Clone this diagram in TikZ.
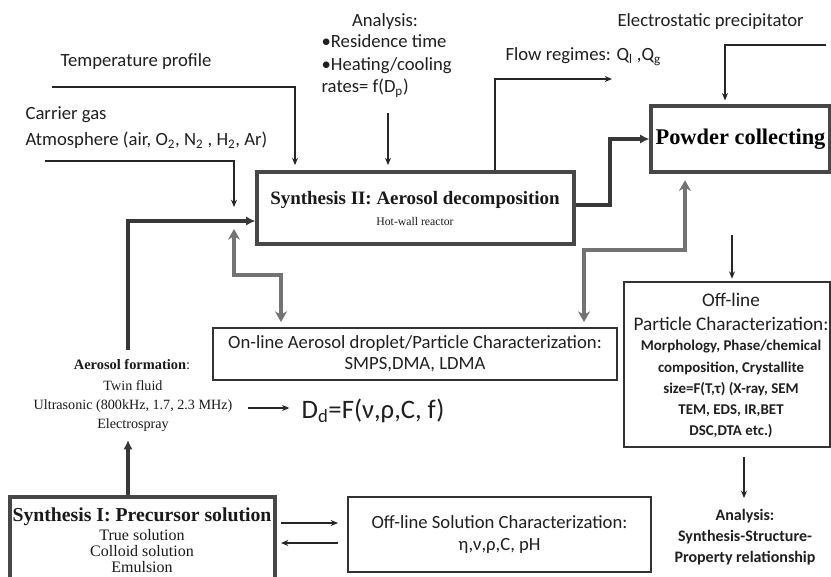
\documentclass[tikz,border=0pt]{standalone}
\usepackage{fontspec}
\setmainfont{Liberation Serif}
\newfontfamily\calfont{Carlito}
\usetikzlibrary{arrows.meta}
\begin{document}
\begin{tikzpicture}[x=0.75pt,y=-0.75pt,
  tarrow/.style={draw=black!85,line width=0.8pt,-{Stealth[length=5.5pt,width=4.5pt]}},
  karrow/.style={draw=black!78,line width=2.3pt,-{Latex[length=7pt,width=7pt]}},
  garrow/.style={draw=black!55,line width=2.6pt,{Stealth[length=8pt,width=9pt]}-{Stealth[length=8pt,width=9pt]}},
  bigbox/.style={draw=black!72,line width=2.4pt,inner sep=0pt},
  smallbox/.style={draw=black!80,line width=1pt,inner sep=0pt},
  ctext/.style={font=\calfont\fontsize{14}{16}\selectfont,text=black!88,inner sep=1pt},
  stext/.style={text=black!90,inner sep=1pt,align=center}]
\useasboundingbox (0,0) rectangle (831,576);
\clip (0,0) rectangle (831,576);

% boxes
\node[bigbox,minimum width=237.75pt,minimum height=54pt] (syn2) at (415.5,208) {};
\node[stext,font=\fontsize{14.2}{16}\selectfont\bfseries] (syn2t) at (415,200) {Synthesis II: Aerosol decomposition};
\node[stext,font=\fontsize{8.8}{10}\selectfont] (syn2s) at (415,221) {Hot-wall reactor};
\node[bigbox,minimum width=134.25pt,minimum height=49.5pt,font=\fontsize{16.8}{19}\selectfont\bfseries] (powder) at (740.5,139) {Powder collecting};
\node[smallbox,minimum width=303pt,minimum height=39pt,ctext,align=center,inner sep=0pt,font=\calfont\fontsize{14}{15.75}\selectfont] (online) at (415,354)
  {On-line Aerosol droplet/Particle Characterization:\\ SMPS,DMA, LDMA};
\node[smallbox,minimum width=154.5pt,minimum height=123.75pt] (offpart) at (727,364.5) {};
\node[ctext,align=center,font=\calfont\fontsize{14.4}{18}\selectfont] (offpt) at (731,312) {Off-line\\ Particle Characterization:};
\node[ctext,align=center,font=\calfont\bfseries\fontsize{11.2}{15.8}\selectfont] (offpb) at (731,389)
  {Morphology, Phase/chemical\\ composition, Crystallite\\ size=F(T,τ) (X-ray, SEM\\ TEM, EDS, IR,BET\\ DSC,DTA etc.)};
\node[bigbox,minimum width=198.75pt,minimum height=75pt] (syn1) at (142.5,547) {};
\node[stext,font=\fontsize{14.8}{16}\selectfont\bfseries] (syn1t) at (142,517) {Synthesis I: Precursor solution};
\node[stext,font=\fontsize{12}{11.8}\selectfont] (syn1s) at (142,551) {True solution\\ Colloid solution\\ Emulsion};
\node[smallbox,minimum width=227.25pt,minimum height=56.25pt,ctext,align=center] (offsol) at (499.5,534.5)
  {Off-line Solution Characterization:\\[1pt] η,ν,ρ,C, pH};

% free texts
\node[ctext,anchor=west] (tp) at (59,62) {Temperature profile};
\node[ctext,anchor=west] (cg1) at (24,115) {Carrier gas};
\node[ctext,anchor=west] (cg2) at (24,140) {Atmosphere (air, O\textsubscript{2}, N\textsubscript{2} , H\textsubscript{2}, Ar)};
\node[ctext] (an1) at (385,22) {Analysis:};
\node[ctext,anchor=north west,align=left,font=\calfont\fontsize{14}{17}\selectfont] (an2) at (320,33)
  {•Residence time\\ •Heating/cooling\\ rates= f(D\textsubscript{p})};
\node[ctext,anchor=west] (fr) at (504,57) {Flow regimes: Q\textsubscript{l} ,Q\textsubscript{g}};
\node[ctext,anchor=west] (es) at (616,22) {Electrostatic precipitator};
\node[stext,font=\fontsize{10.8}{15}\selectfont] (aero1) at (132,365) {\textbf{Aerosol formation}:};
\node[stext,font=\fontsize{10.6}{14.5}\selectfont] (aero) at (133,406) {Twin fluid\\ Ultrasonic (800kHz, 1.7, 2.3 MHz)\\ Electrospray};
\node[ctext,anchor=west,font=\calfont\fontsize{20}{22}\selectfont] (dd) at (300,411) {D\textsubscript{d}=F(ν,ρ,C, f)};
\node[ctext,align=center,font=\calfont\bfseries\fontsize{12}{16}\selectfont] (anb) at (745,537)
  {Analysis:\\ Synthesis-Structure-\\ Property relationship};

% connectors
\coordinate (tpA) at (52,87); \coordinate (tpB) at (295,87);
\draw[tarrow,shorten >=4pt] (tpA) -- (tpB) -- (syn2.north -| tpB);
\coordinate (anA) at (388,113);
\draw[tarrow,shorten >=4pt] (anA) -- (syn2.north -| anA);
\coordinate (cgA) at (45,161); \coordinate (cgB) at (234,161); \coordinate (cgC) at (234,207);
\draw[tarrow] (cgA) -- (cgB) -- (cgC);
\coordinate (kA) at (128,350); \coordinate (kB) at (128,221);
\draw[karrow] (kA) -- (kB) -- (syn2.west |- kB);
\coordinate (frA) at (495,79); \coordinate (frB) at (612,79);
\draw[tarrow] (syn2.north -| frA) -- (frA) -- (frB);
\coordinate (esA) at (826,45); \coordinate (esB) at (725,45);
\draw[tarrow,shorten >=3pt] (esA) -- (esB) -- (powder.north -| esB);
\coordinate (pk) at (610,205);
\draw[karrow] (syn2.east |- pk) -- (pk) |- (powder.west);
\coordinate (gA) at (234,229); \coordinate (gB) at (281,275);
\draw[garrow,shorten >=4pt] (gA) |- (gB) -- (online.north -| gB);
\coordinate (gC) at (685,250); \coordinate (gD) at (584,250);
\draw[garrow,shorten <=5pt,shorten >=4pt] (powder.south -| gC) -- (gC) -- (gD) -- (online.north -| gD);
\coordinate (opA) at (732,235);
\draw[tarrow,shorten >=2pt] (opA) -- (offpart.north -| opA);
\coordinate (obA) at (744,457); \coordinate (obB) at (744,498);
\draw[tarrow] (obA) -- (obB);
\coordinate (uA) at (248,408);
\draw[tarrow,shorten >=8pt] (uA) -- (dd.west |- uA);
\coordinate (kC) at (128,440);
\draw[karrow] (syn1.north -| kC) -- (kC);
\coordinate (s1a) at (281,523); \coordinate (s1b) at (281,543);
\draw[tarrow,shorten >=7pt] (s1a) -- (offsol.west |- s1a);
\draw[tarrow,shorten <=7pt] (offsol.west |- s1b) -- (s1b);
\end{tikzpicture}
\end{document}
